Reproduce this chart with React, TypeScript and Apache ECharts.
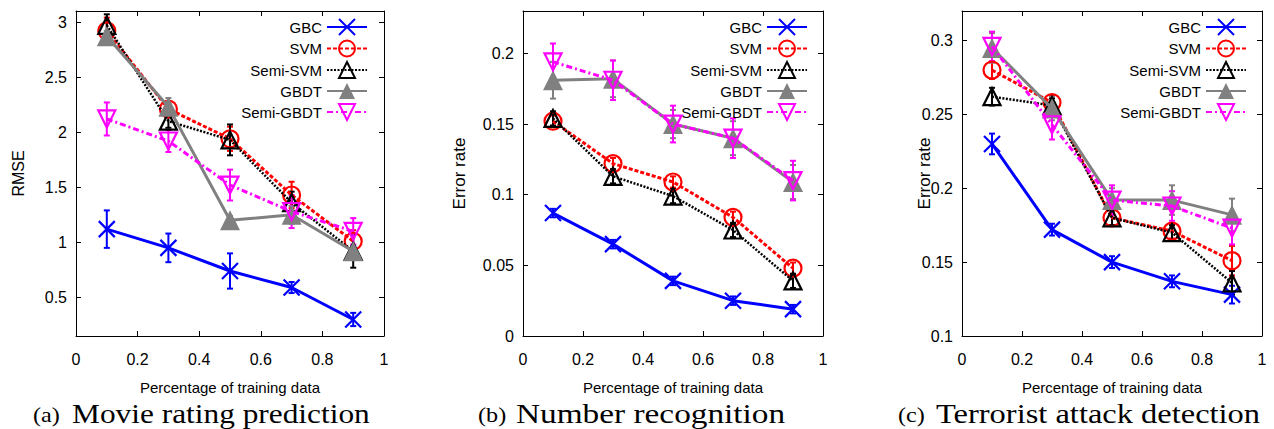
import React, { useEffect, useRef } from 'react';
import * as echarts from 'echarts';

// ---------- data ----------
const xValues = [0.1, 0.3, 0.5, 0.7, 0.9];
const seriesNames = ['GBC', 'SVM', 'Semi-SVM', 'GBDT', 'Semi-GBDT'];
const xTicks = [0, 0.2, 0.4, 0.6, 0.8, 1];

// (a) Movie rating prediction — RMSE
const movieGBC = [1.12, 0.95, 0.74, 0.59, 0.3];
const movieSVM = [2.92, 2.21, 1.94, 1.43, 1.01];
const movieSemiSVM = [2.97, 2.1, 1.93, 1.36, 0.92];
const movieGBDT = [2.87, 2.23, 1.2, 1.25, 0.92];
const movieSemiGBDT = [2.12, 1.92, 1.52, 1.28, 1.1];
const movieGBCErr = [0.17, 0.13, 0.16, 0.05, 0.06];
const movieSVMErr = [0.12, 0.05, 0.11, 0.12, 0.1];
const movieSemiSVMErr = [0.1, 0.06, 0.14, 0.1, 0.15];
const movieGBDTErr = [0.05, 0.08, 0.04, 0.08, 0.05];
const movieSemiGBDTErr = [0.15, 0.1, 0.14, 0.15, 0.12];
const movieYTicks = [0.5, 1, 1.5, 2, 2.5, 3];

// (b) Number recognition — error rate
const numGBC = [0.087, 0.065, 0.039, 0.025, 0.019];
const numSVM = [0.152, 0.122, 0.109, 0.084, 0.048];
const numSemiSVM = [0.154, 0.113, 0.099, 0.075, 0.039];
const numGBDT = [0.181, 0.182, 0.15, 0.14, 0.109];
const numSemiGBDT = [0.194, 0.181, 0.15, 0.14, 0.11];
const numGBCErr = [0.003, 0.003, 0.003, 0.003, 0.003];
const numSVMErr = [0.004, 0.004, 0.004, 0.004, 0.004];
const numSemiSVMErr = [0.005, 0.005, 0.005, 0.005, 0.005];
const numGBDTErr = [0.013, 0.013, 0.01, 0.012, 0.012];
const numSemiGBDTErr = [0.013, 0.014, 0.013, 0.014, 0.014];
const numYTicks = [0, 0.05, 0.1, 0.15, 0.2];

// (c) Terrorist attack detection — error rate
const terGBC = [0.23, 0.172, 0.15, 0.137, 0.128];
const terSVM = [0.28, 0.258, 0.18, 0.171, 0.151];
const terSemiSVM = [0.262, 0.256, 0.18, 0.17, 0.136];
const terGBDT = [0.295, 0.254, 0.192, 0.192, 0.182];
const terSemiGBDT = [0.296, 0.243, 0.192, 0.188, 0.173];
const terGBCErr = [0.007, 0.004, 0.004, 0.004, 0.006];
const terSVMErr = [0.006, 0.005, 0.005, 0.005, 0.01];
const terSemiSVMErr = [0.006, 0.005, 0.005, 0.005, 0.008];
const terGBDTErr = [0.01, 0.008, 0.008, 0.01, 0.011];
const terSemiGBDTErr = [0.01, 0.01, 0.01, 0.01, 0.011];
const terYTicks = [0.1, 0.15, 0.2, 0.25, 0.3];

// ---------- styles ----------
const SANS = "'Liberation Sans', sans-serif";
const SERIF = "'Liberation Serif', serif";

const styles = [
  { color: '#0000ff', symbol: 'path://M0,0L10,10M10,0L0,10', size: 16, fill: 'none', dash: 'solid', width: 3 },
  { color: '#ff0000', symbol: 'path://M5,0A5,5,0,1,1,5,10A5,5,0,1,1,5,0Z', size: 17, fill: 'none', dash: [4, 2], width: 3 },
  { color: '#000000', symbol: 'path://M5,0L10,10L0,10Z', size: 17, fill: 'none', dash: [2, 1.5], width: 2.5 },
  { color: '#808080', symbol: 'triangle', size: 20, fill: '#808080', dash: 'solid', width: 3 },
  { color: '#ff00ff', symbol: 'path://M0,0L10,0L5,10Z', size: 17, fill: 'none', dash: [6, 3, 2, 3], width: 3 },
];

const panels = [
  {
    grid: { left: 76, top: 11, width: 308, height: 325 },
    yMin: 0.15, yMax: 3.1, yTicks: movieYTicks, yName: 'RMSE', yNameGap: 50, yNameSize: 16,
    values: [movieGBC, movieSVM, movieSemiSVM, movieGBDT, movieSemiGBDT],
    errs: [movieGBCErr, movieSVMErr, movieSemiSVMErr, movieGBDTErr, movieSemiGBDTErr],
    legendRight: 906,
    letter: '(a)', caption: 'Movie rating prediction', letterX: 33, capX: 72, capScale: 1.12,
  },
  {
    grid: { left: 523, top: 11, width: 300, height: 325 },
    yMin: 0, yMax: 0.23, yTicks: numYTicks, yName: 'Error rate', yNameGap: 55, yNameSize: 17,
    values: [numGBC, numSVM, numSemiSVM, numGBDT, numSemiGBDT],
    errs: [numGBCErr, numSVMErr, numSemiSVMErr, numGBDTErr, numSemiGBDTErr],
    legendRight: 466,
    letter: '(b)', caption: 'Number recognition', letterX: 478, capX: 516, capScale: 1.19,
  },
  {
    grid: { left: 962, top: 11, width: 300, height: 325 },
    yMin: 0.1, yMax: 0.32, yTicks: terYTicks, yName: 'Error rate', yNameGap: 29, yNameSize: 17,
    values: [terGBC, terSVM, terSemiSVM, terGBDT, terSemiGBDT],
    errs: [terGBCErr, terSVMErr, terSemiSVMErr, terGBDTErr, terSemiGBDTErr],
    legendRight: 27,
    letter: '(c)', caption: 'Terrorist attack detection', letterX: 898, capX: 936, capScale: 1.16,
  },
];

function buildOption() {
  const grid: any[] = [];
  const xAxis: any[] = [];
  const yAxis: any[] = [];
  const series: any[] = [];
  const legend: any[] = [];
  const graphic: any[] = [];
  const axisLine = { show: true, onZero: false, lineStyle: { color: '#000', width: 1 } };
  const axisTick = { show: true, inside: true, length: 5, lineStyle: { color: '#000', width: 1 } };

  panels.forEach((p, i) => {
    grid.push(p.grid);
    xAxis.push({
      type: 'value', gridIndex: i, min: 0, max: 1, position: 'bottom',
      axisLine, axisTick: { ...axisTick, customValues: xTicks },
      axisLabel: { customValues: xTicks, color: '#000', fontFamily: SANS, fontSize: 16, margin: 15 },
      splitLine: { show: false },
      name: 'Percentage of training data', nameLocation: 'middle', nameGap: 44, nameMoveOverlap: false,
      nameTextStyle: { color: '#000', fontFamily: SANS, fontSize: 15 },
    });
    xAxis.push({
      type: 'value', gridIndex: i, min: 0, max: 1, position: 'top',
      axisLine, axisTick: { ...axisTick, customValues: xTicks },
      axisLabel: { show: false }, splitLine: { show: false },
    });
    yAxis.push({
      type: 'value', gridIndex: i, min: p.yMin, max: p.yMax, position: 'left',
      axisLine, axisTick: { ...axisTick, customValues: p.yTicks },
      axisLabel: { customValues: p.yTicks, color: '#000', fontFamily: SANS, fontSize: 16, margin: 9 },
      splitLine: { show: false },
      name: p.yName, nameLocation: 'middle', nameGap: p.yNameGap, nameMoveOverlap: false,
      nameTextStyle: { color: '#000', fontFamily: SANS, fontSize: p.yNameSize },
    });
    yAxis.push({
      type: 'value', gridIndex: i, min: p.yMin, max: p.yMax, position: 'right',
      axisLine, axisTick: { ...axisTick, customValues: p.yTicks },
      axisLabel: { show: false }, splitLine: { show: false },
    });

    seriesNames.forEach((name, k) => {
      const st = styles[k];
      const vals = p.values[k];
      const errs = p.errs[k];
      series.push({
        type: 'custom', name: name + ' error', xAxisIndex: 2 * i, yAxisIndex: 2 * i, z: 1,
        silent: true,
        data: xValues.map((x, j) => [x, vals[j] - errs[j], vals[j] + errs[j]]),
        encode: { x: 0, y: [1, 2] },
        renderItem: (params: any, api: any) => {
          const x = api.value(0);
          const lo = api.coord([x, api.value(1)]);
          const hi = api.coord([x, api.value(2)]);
          const cap = 3;
          const s = { stroke: st.color, lineWidth: 2 };
          return {
            type: 'group',
            children: [
              { type: 'line', shape: { x1: hi[0], y1: hi[1], x2: lo[0], y2: lo[1] }, style: s },
              { type: 'line', shape: { x1: hi[0] - cap, y1: hi[1], x2: hi[0] + cap, y2: hi[1] }, style: s },
              { type: 'line', shape: { x1: lo[0] - cap, y1: lo[1], x2: lo[0] + cap, y2: lo[1] }, style: s },
            ],
          };
        },
      });
      series.push({
        type: 'line', name, xAxisIndex: 2 * i, yAxisIndex: 2 * i, z: 2 + k,
        data: xValues.map((x, j) => [x, vals[j]]),
        symbol: st.symbol, symbolSize: st.size, showAllSymbol: true,
        lineStyle: { color: st.color, width: st.width, type: st.dash },
        itemStyle: { color: st.fill, borderColor: st.color, borderWidth: st.fill === 'none' ? 2.2 : 0 },
        emphasis: { disabled: true },
      });
    });

    legend.push({
      orient: 'vertical', align: 'right', right: p.legendRight, top: 16.5, padding: 0,
      itemWidth: 40, itemHeight: 20, itemGap: 0.5, selectedMode: false,
      data: seriesNames,
      textStyle: { color: '#000', fontFamily: SANS, fontSize: 15, lineHeight: 20 },
    });

    graphic.push({
      type: 'text', x: p.letterX, y: 414, scaleX: 1.1,
      style: { text: p.letter, fontFamily: SERIF, fontSize: 22, fill: '#000', textAlign: 'left', textVerticalAlign: 'middle', verticalAlign: 'middle' },
    });
    graphic.push({
      type: 'text', x: p.capX, y: 414, scaleX: p.capScale,
      style: { text: p.caption, fontFamily: SERIF, fontSize: 28, fill: '#000', textAlign: 'left', textVerticalAlign: 'middle', verticalAlign: 'middle' },
    });
  });

  return { animation: false, backgroundColor: '#fff', grid, xAxis, yAxis, series, legend, graphic };
}

export default function App() {
  const ref = useRef<HTMLDivElement>(null);
  useEffect(() => {
    if (!ref.current) return;
    const chart = echarts.init(ref.current, undefined, { renderer: 'svg' });
    chart.setOption(buildOption() as any);
    return () => chart.dispose();
  }, []);
  return <div ref={ref} style={{ position: 'absolute', left: 0, top: 0, width: 1274, height: 429 }} />;
}
